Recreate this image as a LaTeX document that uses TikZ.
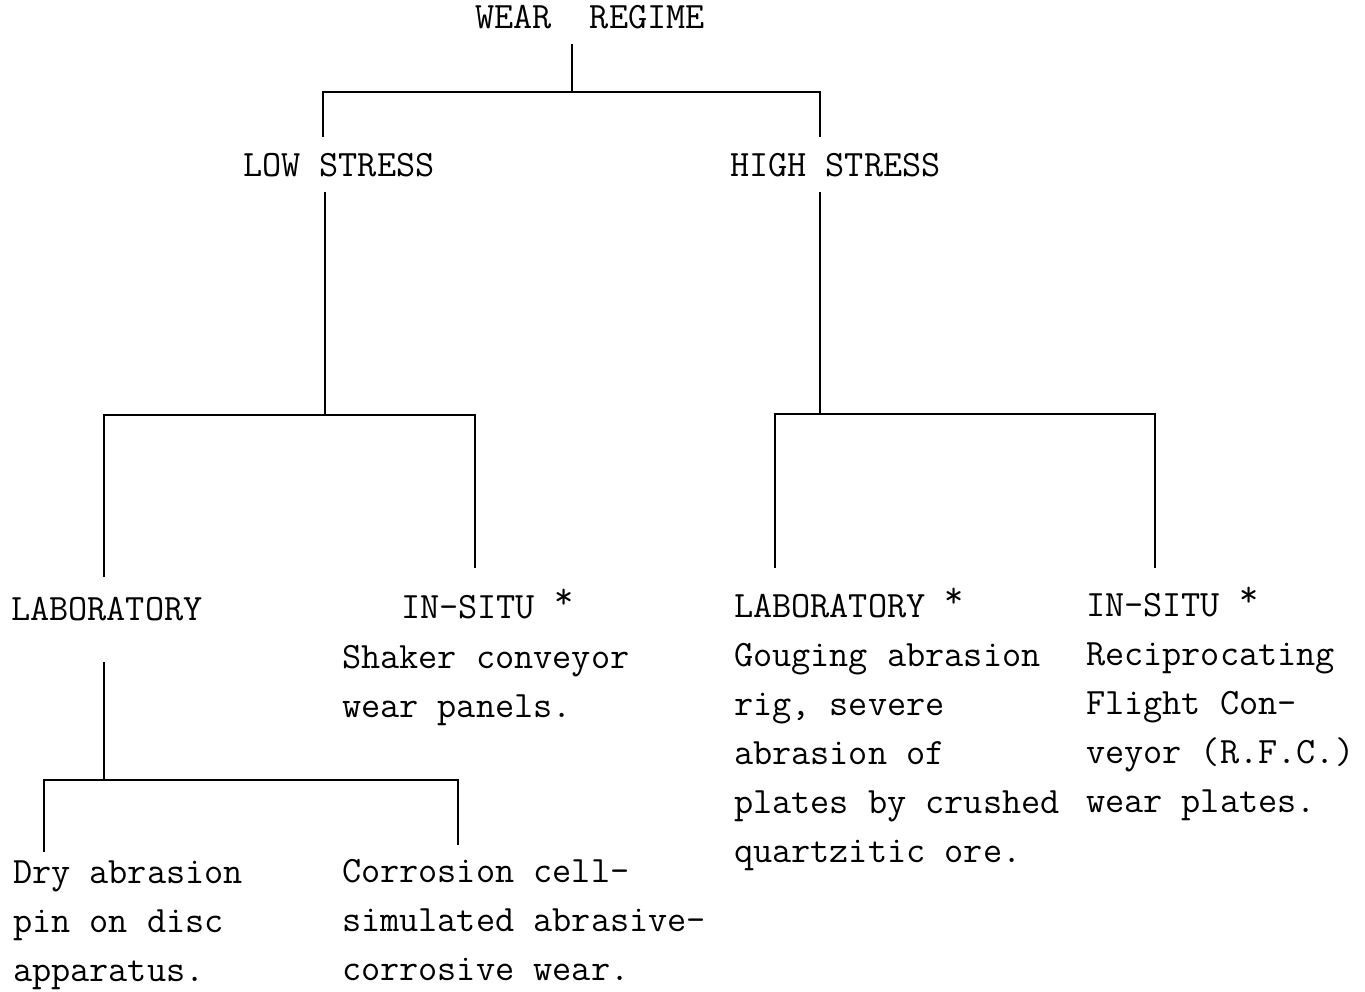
\documentclass[tikz,border=0pt]{standalone}
\usepackage{fontspec}
\newcommand{\notelines}[1]{\begin{tabular}[t]{@{}l@{}}#1\end{tabular}}

\begin{document}
\begin{tikzpicture}[x=0.5pt,y=-0.5pt,line width=1pt]
    % `heading' is used for the capital titles, `blurb' for the notes below them.
    % `branch' is used for the lines of the tree.
    \tikzstyle{heading} = [anchor=base west,inner sep=0pt,font=\ttfamily\fontsize{18.6}{24.6}\selectfont]
    \tikzstyle{blurb} = [heading]
    \tikzstyle{branch} = [line width=1pt]
    \useasboundingbox (0,0) rectangle (1365,991);
    %
    \node[heading] (regime) at (474,28) {WEAR~~REGIME};
    \node[heading] (low) at (242,176) {LOW STRESS};
    \node[heading] (high) at (729,176) {HIGH STRESS};
    %
    \node[heading] (lowlab) at (10,620) {LABORATORY};
    \node[heading] (lowins) at (400,618) {IN-SITU \raisebox{5pt}{*}};
    \node[blurb] (shaker) at (341,668) {\notelines{Shaker conveyor\\wear panels.}};
    \node[blurb] (dry) at (12,883) {\notelines{Dry abrasion\\pin on disc\\apparatus.}};
    \node[blurb] (corr) at (341,882) {\notelines{Corrosion cell-\\simulated abrasive-\\corrosive wear.}};
    %
    \node[heading] (highlab) at (733,617) {LABORATORY \raisebox{5pt}{*}};
    \node[blurb] (gouge) at (733,666) {\notelines{Gouging abrasion\\rig, severe\\abrasion of\\plates by crushed\\quartzitic ore.}};
    \node[heading] (highins) at (1085,616) {IN-SITU \raisebox{5pt}{*}};
    \node[blurb] (rfc) at (1085,665) {\notelines{Reciprocating\\Flight Con-\\veyor (R.F.C.)\\wear plates.}};
    %
    % Ends of the branches.
    \coordinate (regimestem) at (572,44);
    \coordinate (regimebar) at (572,92);
    \coordinate (lowtop) at (323,137);
    \coordinate (hightop) at (820,137);
    \coordinate (lowstem) at (325,192);
    \coordinate (lowbar) at (325,415);
    \coordinate (lowlabtop) at (104,577);
    \coordinate (lowinstop) at (475,568);
    \coordinate (highstem) at (820,192);
    \coordinate (highbar) at (820,414);
    \coordinate (highlabtop) at (775,568);
    \coordinate (highinstop) at (1155,568);
    \coordinate (labstem) at (104,662);
    \coordinate (labbar) at (104,780);
    \coordinate (drytop) at (44,852);
    \coordinate (corrtop) at (458,845);
    %
    \draw[branch] (regimestem) -- (regimebar);
    \draw[branch] (lowtop) |- (regimebar) -| (hightop);
    \draw[branch] (lowstem) -- (lowbar);
    \draw[branch] (lowlabtop) |- (lowbar) -| (lowinstop);
    \draw[branch] (highstem) -- (highbar);
    \draw[branch] (highlabtop) |- (highbar) -| (highinstop);
    \draw[branch] (labstem) -- (labbar);
    \draw[branch] (drytop) |- (labbar) -| (corrtop);
\end{tikzpicture}
\end{document}
